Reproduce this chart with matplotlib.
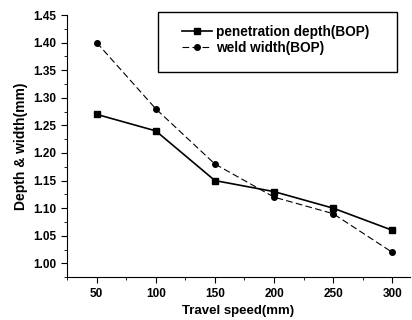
import matplotlib
matplotlib.use("Agg")
import matplotlib.pyplot as plt
from matplotlib.ticker import MultipleLocator, FormatStrFormatter
from matplotlib.patches import Rectangle

speed = [50, 100, 150, 200, 250, 300]
depth = [1.27, 1.24, 1.15, 1.13, 1.10, 1.06]
width = [1.40, 1.28, 1.18, 1.12, 1.09, 1.02]

plt.rcParams['font.family'] = 'Liberation Sans'
plt.rcParams['font.weight'] = 'bold'

fig = plt.figure(figsize=(4.12, 3.2), dpi=100)
ax = fig.add_axes([0.163, 0.134, 0.832, 0.819])

ax.plot(speed, depth, 'k-', marker='s', ms=5, lw=1.2, label='penetration depth(BOP)')
ax.plot(speed, width, 'k--', marker='o', ms=4, lw=0.8, dashes=(6, 3), label='weld width(BOP)')

ax.set_xlim(25, 315)
ax.set_ylim(0.975, 1.45)
ax.xaxis.set_major_locator(MultipleLocator(50))
ax.xaxis.set_minor_locator(MultipleLocator(25))
ax.yaxis.set_major_locator(MultipleLocator(0.05))
ax.yaxis.set_minor_locator(MultipleLocator(0.025))
ax.yaxis.set_major_formatter(FormatStrFormatter('%.2f'))

ax.spines['top'].set_visible(False)
ax.spines['right'].set_visible(False)
ax.tick_params(which='major', direction='out', length=4, labelsize=8.5)
ax.tick_params(which='minor', direction='out', length=2)

ax.set_xlabel('Travel speed(mm)', fontsize=9.5, fontweight='bold')
ax.set_ylabel('Depth & width(mm)', fontsize=10, fontweight='bold')

# legend box drawn separately (tall box, entries near the top)
ax.add_patch(Rectangle((0.265, 0.782), 0.697, 0.229, transform=ax.transAxes,
                       fill=False, lw=1.0, ec='black', clip_on=False))
ax.legend(loc='upper left', bbox_to_anchor=(0.335, 0.962), fontsize=9.8,
          frameon=False, borderpad=0, borderaxespad=0,
          handlelength=2.2, handletextpad=0.3, labelspacing=0.15)

fig.savefig('out.png', dpi=100)
